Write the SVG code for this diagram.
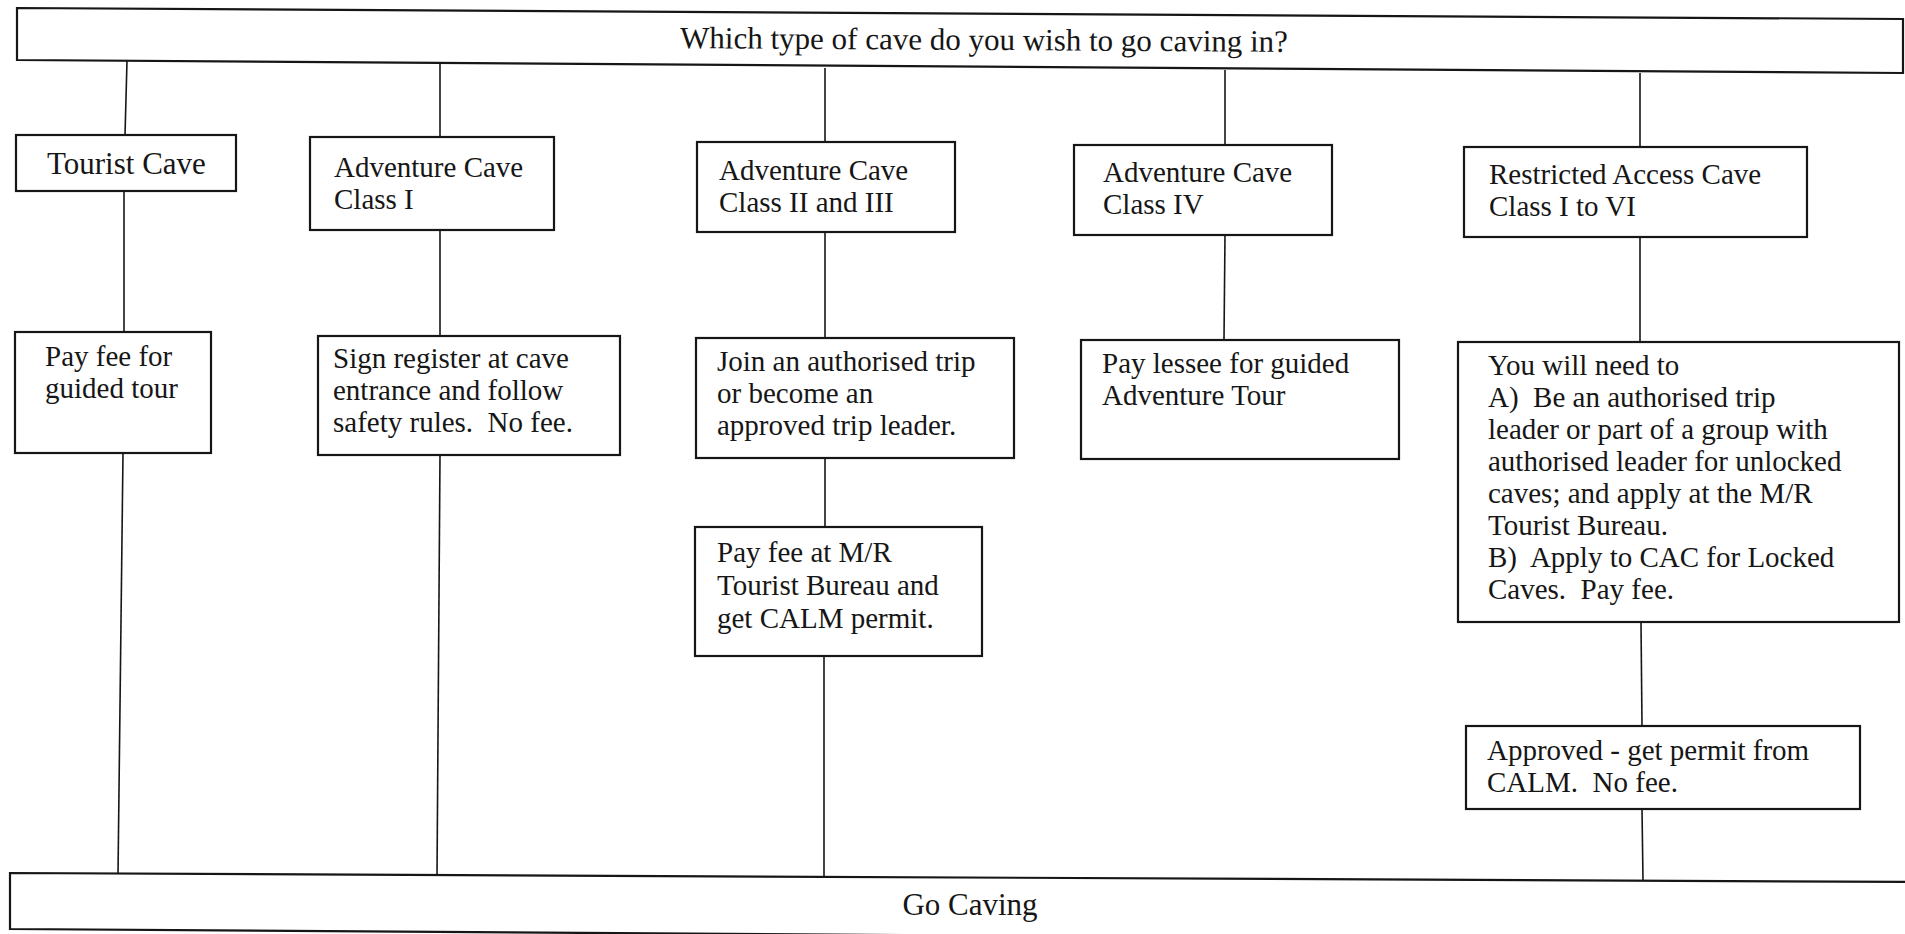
<svg xmlns="http://www.w3.org/2000/svg" width="1905" height="934" viewBox="0 0 1905 934">
<style>
.box{fill:#fff;stroke:#161616;stroke-width:2.2}
.t{font-family:"Liberation Serif","Times New Roman",serif;font-size:29px;fill:#161616}
.h{font-size:31px}
#connectors line{stroke:#161616;stroke-width:1.6}
</style>
<rect width="1905" height="934" fill="#fff"/>
<g id="connectors">
<line x1="127" y1="61" x2="125" y2="135"/>
<line x1="124" y1="191" x2="124" y2="332"/>
<line x1="123" y1="453" x2="118" y2="875"/>
<line x1="440" y1="62" x2="440" y2="137"/>
<line x1="440" y1="230" x2="440" y2="336"/>
<line x1="440" y1="455" x2="437" y2="876"/>
<line x1="825" y1="68" x2="825" y2="142"/>
<line x1="825" y1="232" x2="825" y2="338"/>
<line x1="825" y1="458" x2="825" y2="527"/>
<line x1="824" y1="656" x2="824" y2="878"/>
<line x1="1225" y1="70" x2="1225" y2="145"/>
<line x1="1225" y1="235" x2="1224" y2="340"/>
<line x1="1640" y1="73" x2="1640" y2="147"/>
<line x1="1640" y1="237" x2="1640" y2="342"/>
<line x1="1641" y1="622" x2="1642" y2="726"/>
<line x1="1642" y1="809" x2="1643" y2="881"/>
</g>
<g id="question">
<polygon class="box" points="17,8 1903,19 1903,73 17,60"/>
<text class="t h" x="984" y="50" text-anchor="middle" font-size="32" transform="rotate(0.35 984 50)">Which type of cave do you wish to go caving in?</text>
</g>
<g id="tourist-cave">
<rect class="box" x="16" y="135" width="220" height="56"/>
<text class="t h" x="47" y="174">Tourist Cave</text>
</g>
<g id="adventure-1">
<rect class="box" x="310" y="137" width="244" height="93"/>
<text class="t" x="334" y="177">Adventure Cave<tspan x="334" y="209">Class I</tspan></text>
</g>
<g id="adventure-2-3">
<rect class="box" x="697" y="142" width="258" height="90"/>
<text class="t" x="719" y="180">Adventure Cave<tspan x="719" y="212">Class II and III</tspan></text>
</g>
<g id="adventure-4">
<rect class="box" x="1074" y="145" width="258" height="90"/>
<text class="t" x="1103" y="182">Adventure Cave<tspan x="1103" y="214">Class IV</tspan></text>
</g>
<g id="restricted">
<rect class="box" x="1464" y="147" width="343" height="90"/>
<text class="t" x="1489" y="184">Restricted Access Cave<tspan x="1489" y="216">Class I to VI</tspan></text>
</g>
<g id="pay-fee-tour">
<rect class="box" x="15" y="332" width="196" height="121"/>
<text class="t" x="45" y="366">Pay fee for<tspan x="45" y="398">guided tour</tspan></text>
</g>
<g id="sign-register">
<rect class="box" x="318" y="336" width="302" height="119"/>
<text class="t" x="333" y="368" xml:space="preserve">Sign register at cave<tspan x="333" y="400">entrance and follow</tspan><tspan x="333" y="432">safety rules.  No fee.</tspan></text>
</g>
<g id="join-trip">
<rect class="box" x="696" y="338" width="318" height="120"/>
<text class="t" x="717" y="371">Join an authorised trip<tspan x="717" y="403">or become an</tspan><tspan x="717" y="435">approved trip leader.</tspan></text>
</g>
<g id="pay-fee-mr">
<rect class="box" x="695" y="527" width="287" height="129"/>
<text class="t" x="717" y="562">Pay fee at M/R<tspan x="717" y="595">Tourist Bureau and</tspan><tspan x="717" y="628">get CALM permit.</tspan></text>
</g>
<g id="pay-lessee">
<rect class="box" x="1081" y="340" width="318" height="119"/>
<text class="t" x="1102" y="373">Pay lessee for guided<tspan x="1102" y="405">Adventure Tour</tspan></text>
</g>
<g id="you-will-need">
<rect class="box" x="1458" y="342" width="441" height="280"/>
<text class="t" x="1488" y="375" xml:space="preserve">You will need to<tspan x="1488" y="407">A)  Be an authorised trip</tspan><tspan x="1488" y="439">leader or part of a group with</tspan><tspan x="1488" y="471">authorised leader for unlocked</tspan><tspan x="1488" y="503">caves; and apply at the M/R</tspan><tspan x="1488" y="535">Tourist Bureau.</tspan><tspan x="1488" y="567">B)  Apply to CAC for Locked</tspan><tspan x="1488" y="599">Caves.  Pay fee.</tspan></text>
</g>
<g id="approved">
<rect class="box" x="1466" y="726" width="394" height="83"/>
<text class="t" x="1487" y="760" xml:space="preserve">Approved - get permit from<tspan x="1487" y="792">CALM.  No fee.</tspan></text>
</g>
<g id="go-caving">
<polygon class="box" points="10,873 1912,882 1912,942 10,929"/>
<text class="t h" x="970" y="915" text-anchor="middle">Go Caving</text>
</g>
</svg>
